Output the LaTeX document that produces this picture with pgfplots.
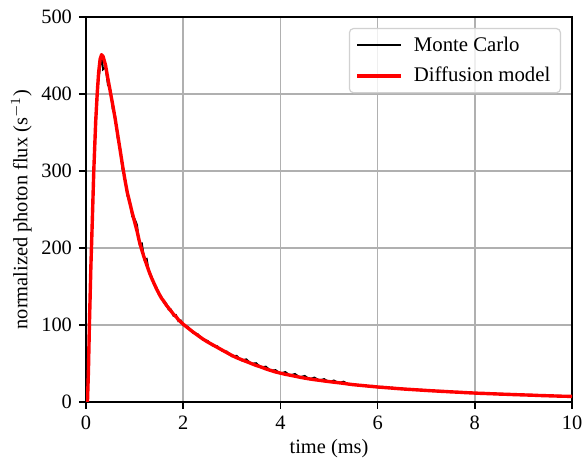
\documentclass[border=0pt]{standalone}
\usepackage{pgfplots}
\pgfplotsset{compat=1.18}
\usepackage{fontspec}
\setmainfont{Liberation Serif}
\definecolor{gridgray}{HTML}{B0B0B0}
\begin{document}
\begin{tikzpicture}
\begin{axis}[
  scale only axis,
  width=243pt, height=192.5pt,
  xmin=0, xmax=10, ymin=0, ymax=500,
  xtick={0,2,4,6,8,10}, ytick={0,100,200,300,400,500},
  tick align=outside, tick pos=left,
  major tick length=3.5pt,
  axis line style={line width=0.8pt},
  every tick/.style={black, line width=0.8pt},
  grid=major,
  major grid style={line width=0.8pt, color=gridgray},
  /pgf/number format/assume math mode=true,
  tick label style={font=\fontsize{10.2}{12}\selectfont},
  label style={font=\fontsize{10.2}{12}\selectfont},
  xlabel={time (ms)},
  ylabel={normalized photon flux (s$^{-1}$)},
  xlabel style={yshift=2pt},
  ylabel style={yshift=-2pt},
  legend style={at={(1,1)}, xshift=-5.5pt, yshift=-5.5pt, anchor=north east, draw=black!18, line width=0.6pt, rounded corners=2pt, fill=white, fill opacity=0.8, text opacity=1, font=\fontsize{10.4}{12}\selectfont, inner xsep=3pt, inner ysep=2pt, row sep=2.5pt},
  legend cell align=left,
  legend image code/.code={\draw[#1] (0cm,0cm) -- (22pt,0cm); \path (25.5pt,0pt);},
]
\addplot[black, line width=0.9pt] coordinates {
(0,0) (0.03,0) (0.05,38) (0.1,172) (0.15,283) (0.2,360) (0.25,414) (0.3,440) (0.33,446) (0.35,432) (0.4,435) (0.45,412) (0.5,406) (0.55,380) (0.6,371) (0.65,343) (0.7,331) (0.75,302) (0.8,292) (0.85,268) (0.9,262) (0.95,241) (1.0,238) (1.05,230) (1.1,205) (1.15,206) (1.2,185) (1.25,186) (1.3,167) (1.35,163) (1.4,152) (1.45,149) (1.5,139) (1.55,137) (1.6,129) (1.65,128) (1.7,120) (1.75,120) (1.8,112) (1.85,113) (1.9,105) (1.95,106) (2.0,100)
(2.1,97.5) (2.2,90) (2.3,88) (2.4,81) (2.5,79.5) (2.6,73.5) (2.7,72.5) (2.8,66.5) (2.9,65.5) (3.0,59.5) (3.1,60) (3.2,54) (3.3,55.5) (3.4,49.5) (3.5,50.5) (3.6,45) (3.7,46) (3.8,40.5) (3.9,41.5) (4.0,37) (4.1,39) (4.2,34.5) (4.3,36.5) (4.4,32) (4.5,34) (4.6,29.5) (4.7,31.8) (4.8,28) (4.9,29.8) (5.0,26) (5.1,28) (5.2,24.6) (5.3,26.5) (5.4,23) (5.5,23.5) (5.6,21.5) (5.7,22.2) (5.8,20.4) (5.9,21) (6.0,19.2) (6.1,19.8) (6.2,18.2) (6.3,18.7) (6.4,17.2) (6.5,17.7) (6.6,16.3) (6.7,16.9) (6.8,15.5) (6.9,16) (7.0,14.7) (7.1,15.2) (7.2,14) (7.3,14.5) (7.4,13.3) (7.5,13.8) (7.6,12.6) (7.7,13.1) (7.8,12) (7.9,12.4) (8.0,11.3) (8.1,11.8) (8.2,10.9) (8.3,11.3) (8.4,10.4) (8.5,10.8) (8.6,9.9) (8.7,10.3) (8.8,9.4) (8.9,9.8) (9.0,9) (9.1,9.4) (9.2,8.6) (9.3,8.9) (9.4,8.1) (9.5,8.5) (9.6,7.7) (9.7,8.1) (9.8,7.3) (9.9,7.7) (10,7)
};
\addlegendentry{Monte Carlo}
\addplot[red, line width=1.7pt, line join=round] coordinates {
(0,0) (0.03,0) (0.05,40) (0.07,100) (0.1,175) (0.13,236) (0.16,300) (0.2,365) (0.23,400) (0.26,428) (0.29,445) (0.32,451) (0.35,449) (0.4,438) (0.45,420) (0.5,403) (0.55,386) (0.6,368) (0.65,348) (0.7,328) (0.75,308) (0.8,289) (0.85,272) (0.9,259) (0.95,246) (1.0,234) (1.05,222) (1.1,208) (1.15,197) (1.2,187) (1.25,178) (1.3,169) (1.35,161) (1.4,154) (1.45,147) (1.5,141) (1.55,135) (1.6,131) (1.65,126) (1.7,122) (1.75,118) (1.8,114) (1.85,111) (1.9,107) (1.95,104) (2.0,101)
(2.1,96) (2.2,91) (2.3,86.5) (2.4,82) (2.5,78) (2.6,74.5) (2.7,71) (2.8,67.5) (2.9,64) (3.0,60.5) (3.1,57.5) (3.2,55) (3.3,52.5) (3.4,50) (3.5,47.5) (3.6,45.5) (3.7,43) (3.8,41) (3.9,39) (4.0,37.5) (4.1,36) (4.2,34.8) (4.3,33.5) (4.4,32.2) (4.5,31) (4.6,30) (4.7,29) (4.8,28.2) (4.9,27.3) (5.0,26.5) (5.1,25.7) (5.2,25) (5.3,24.2) (5.4,23.3) (5.5,22.5) (5.6,21.9) (5.7,21.3) (5.8,20.7) (5.9,20.1) (6.0,19.5) (6.1,19) (6.2,18.5) (6.3,18) (6.4,17.5) (6.5,17) (6.6,16.6) (6.7,16.2) (6.8,15.8) (6.9,15.4) (7.0,15) (7.1,14.6) (7.2,14.3) (7.3,13.9) (7.4,13.6) (7.5,13.2) (7.6,12.9) (7.7,12.6) (7.8,12.2) (7.9,11.9) (8.0,11.6) (8.1,11.3) (8.2,11.1) (8.3,10.8) (8.4,10.6) (8.5,10.3) (8.6,10.1) (8.7,9.9) (8.8,9.6) (8.9,9.4) (9.0,9.2) (9.1,9) (9.2,8.8) (9.3,8.5) (9.4,8.3) (9.5,8.1) (9.6,7.9) (9.7,7.7) (9.8,7.5) (9.9,7.4) (10,7.2)
};
\addlegendentry{Diffusion model}
\end{axis}
\pgfresetboundingbox
\useasboundingbox ([shift={(-43pt,-28pt)}]current axis.south west) rectangle ([shift={(5pt,8.5pt)}]current axis.north east);
\end{tikzpicture}
\end{document}
